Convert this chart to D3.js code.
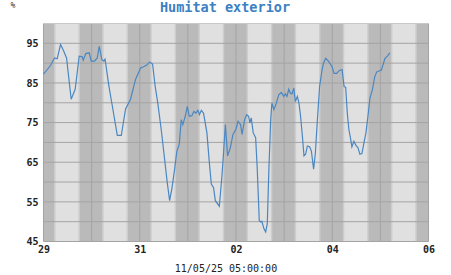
<!DOCTYPE html>
<html>
<head>
<meta charset="utf-8">
<script src="https://cdn.jsdelivr.net/npm/d3@7"></script>
<style>
html,body{margin:0;padding:0;background:#fff;}
svg{display:block;}
</style>
</head>
<body>
<svg id="chart" width="451" height="275"></svg>
<script>
// ---- data ----
const title = "Humitat exterior";
const unitLabel = "%";
const xTitle = "11/05/25 05:00:00";
const startDate = "2025-10-29T00:00:00Z";
const endDate = "2025-11-06T00:00:00Z";
const yTickValues = [45, 55, 65, 75, 85, 95];
const xTickLabels = ["29", "31", "02", "04", "06"];
const sunriseHour = 6.0;
const sunsetHour = 17.4;
// hours since start, humidity %
const hours = [0,3.5,5.5,6.8,8.5,9.8,11.5,13.8,15.8,17.8,19.3,19.8,21.1,22.8,23.8,25.4,26.8,27.8,29.1,30.1,30.7,32.6,34.3,36.8,38.8,40.9,43.4,45.9,48.4,49.9,51.5,52.9,54.4,55.7,57.0,58.7,60.4,61.7,62.9,64.0,65.4,66.5,67.7,68.7,69.5,70.7,71.7,72.7,74.0,75.0,76.0,77.0,77.8,78.7,79.8,81.5,82.7,83.7,84.8,85.7,87.7,89.0,89.8,90.7,91.8,93.2,94.5,96.0,97.0,98.3,99.0,100.3,101.3,102.3,102.9,103.6,104.6,105.8,106.6,107.6,108.3,108.9,109.9,110.8,111.6,112.4,113.3,113.9,114.9,116.1,117.3,118.6,119.8,120.6,121.4,122.3,123.1,123.9,124.8,125.6,126.6,127.4,128.2,129.1,129.9,130.7,131.6,132.7,133.6,134.7,135.6,136.6,137.7,138.9,139.6,140.7,141.9,142.9,143.9,144.9,146.2,147.4,148.9,149.9,150.7,151.5,152.3,153.2,153.8,154.8,155.8,156.8,157.8,158.8,159.8,160.8,161.8,162.8,164.0,165.2,166.2,167.3,168.5,169.5,170.3,171.5,172.7];
const humidity = [87.2,89.4,91.3,91.1,94.7,93.4,91.3,80.9,83.4,91.75,91.6,90.75,92.4,92.6,90.5,90.5,91.3,94.25,90.9,90.5,91,84.25,79.25,71.75,71.75,78.4,80.9,85.9,88.8,89.1,89.5,90.3,89.75,84.1,79.9,73.25,65.75,59.9,55.3,58.25,63.25,67.8,69.5,75.75,74.5,76.6,79.1,76.6,76.75,77.8,77.4,78.1,77,78.1,77.4,72.4,64.9,59.5,58.6,55.3,53.9,61.6,67.4,74.5,66.6,68.7,72,73.4,75.3,74.5,72,75.75,77,76.6,74.9,76.2,72.4,71.2,63.25,50.3,49.9,50.1,48.25,47.4,49.5,63.25,75.75,79.9,78.25,79.9,82,82.6,81.6,82.25,81.6,83.4,82.4,82.25,83.7,80.3,81.6,79.9,76.6,71.6,66.6,67,69.1,68.9,67.8,63.25,67.4,75.75,84.1,88.25,89.9,91.2,90.6,89.9,89.1,87.4,87.4,88.1,88.4,84.1,83.9,77.4,73.25,70.75,68.9,70.3,69.25,68.7,67,67.2,69.9,72.4,76.6,81.2,83.25,86.6,87.8,88,88.25,89.9,91.2,91.75,92.6];

// ---- layout ----
const svg = d3.select("#chart");
const pl = 43.5, pr = 428.5, pt = 23.5, pb = 241.5;
const t0 = new Date(startDate), t1 = new Date(endDate);
const x = d3.scaleUtc().domain([t0, t1]).range([pl, pr]);
const y = d3.scaleLinear().domain([45, 100]).range([pb, pt]);
const HOUR = 3600e3;

const days = d3.utcDay.range(t0, t1);
const g = svg.append("g");

// background: night
g.append("rect").attr("x", pl).attr("y", pt).attr("width", pr-pl).attr("height", pb-pt).attr("fill", "#bababa");
// twilight + day bands
days.forEach(d => {
  const a = new Date(+d + sunriseHour*HOUR), b = new Date(+d + sunsetHour*HOUR);
  g.append("rect").attr("x", x(a)-1.5).attr("y", pt).attr("width", x(b)-x(a)+3).attr("height", pb-pt).attr("fill", "#cdcdcd");
  g.append("rect").attr("x", x(a)).attr("y", pt).attr("width", x(b)-x(a)).attr("height", pb-pt).attr("fill", "#e0e0e0");
});

// grid
const yGrid = d3.range(45, 100, 5);
g.selectAll(".hg").data(yGrid).enter().append("line")
  .attr("x1", pl).attr("x2", pr).attr("y1", d => y(d)).attr("y2", d => y(d))
  .attr("stroke", "#a4a4a4").attr("stroke-width", 1);
g.selectAll(".vg").data(d3.utcDay.range(t0, d3.utcDay.offset(t1, 1))).enter().append("line")
  .attr("x1", d => x(d)).attr("x2", d => x(d)).attr("y1", pt).attr("y2", pb)
  .attr("stroke", "#a4a4a4").attr("stroke-width", 1);
// top frame
g.append("line").attr("x1", pl).attr("x2", pr).attr("y1", pt).attr("y2", pt).attr("stroke", "#c8c8c8");

// line
const pts = hours.map((h, i) => ({t: new Date(+t0 + h*HOUR), v: humidity[i]}));
g.append("path").datum(pts)
  .attr("fill", "none").attr("stroke", "#4a87c2").attr("stroke-width", 1.2)
  .attr("d", d3.line().x(d => x(d.t)).y(d => y(d.v)));

// axes
const font = "DejaVu Sans Mono";
const yAxis = d3.axisLeft(y).tickValues(yTickValues).tickSize(0).tickPadding(5);
const ya = svg.append("g").attr("transform", `translate(${pl},0)`).call(yAxis);
ya.select(".domain").remove();
ya.selectAll("text").attr("font-family", font).attr("font-size", 10).attr("font-weight", "bold").attr("fill", "#222");

const xTicks = xTickLabels.map((_, i) => d3.utcDay.offset(t0, i * 2));
const xAxis = d3.axisBottom(x).tickValues(xTicks).tickSize(0).tickPadding(4)
  .tickFormat((d, i) => xTickLabels[i]);
const xa = svg.append("g").attr("transform", `translate(0,${pb})`).call(xAxis);
xa.select(".domain").remove();
xa.selectAll("text").attr("font-family", font).attr("font-size", 10).attr("font-weight", "bold").attr("fill", "#222");

// texts
svg.append("text").attr("x", 225).attr("y", 12).attr("text-anchor", "middle")
  .attr("font-family", font).attr("font-size", 13.5).attr("font-weight", "bold").attr("fill", "#3b80c2").text(title);
svg.append("text").attr("x", 13).attr("y", 8).attr("text-anchor", "middle")
  .attr("font-family", font).attr("font-size", 8).attr("fill", "#333").text(unitLabel);
svg.append("text").attr("x", 226).attr("y", 272).attr("text-anchor", "middle")
  .attr("font-family", font).attr("font-size", 10).attr("fill", "#222").text(xTitle);
</script>
</body>
</html>
